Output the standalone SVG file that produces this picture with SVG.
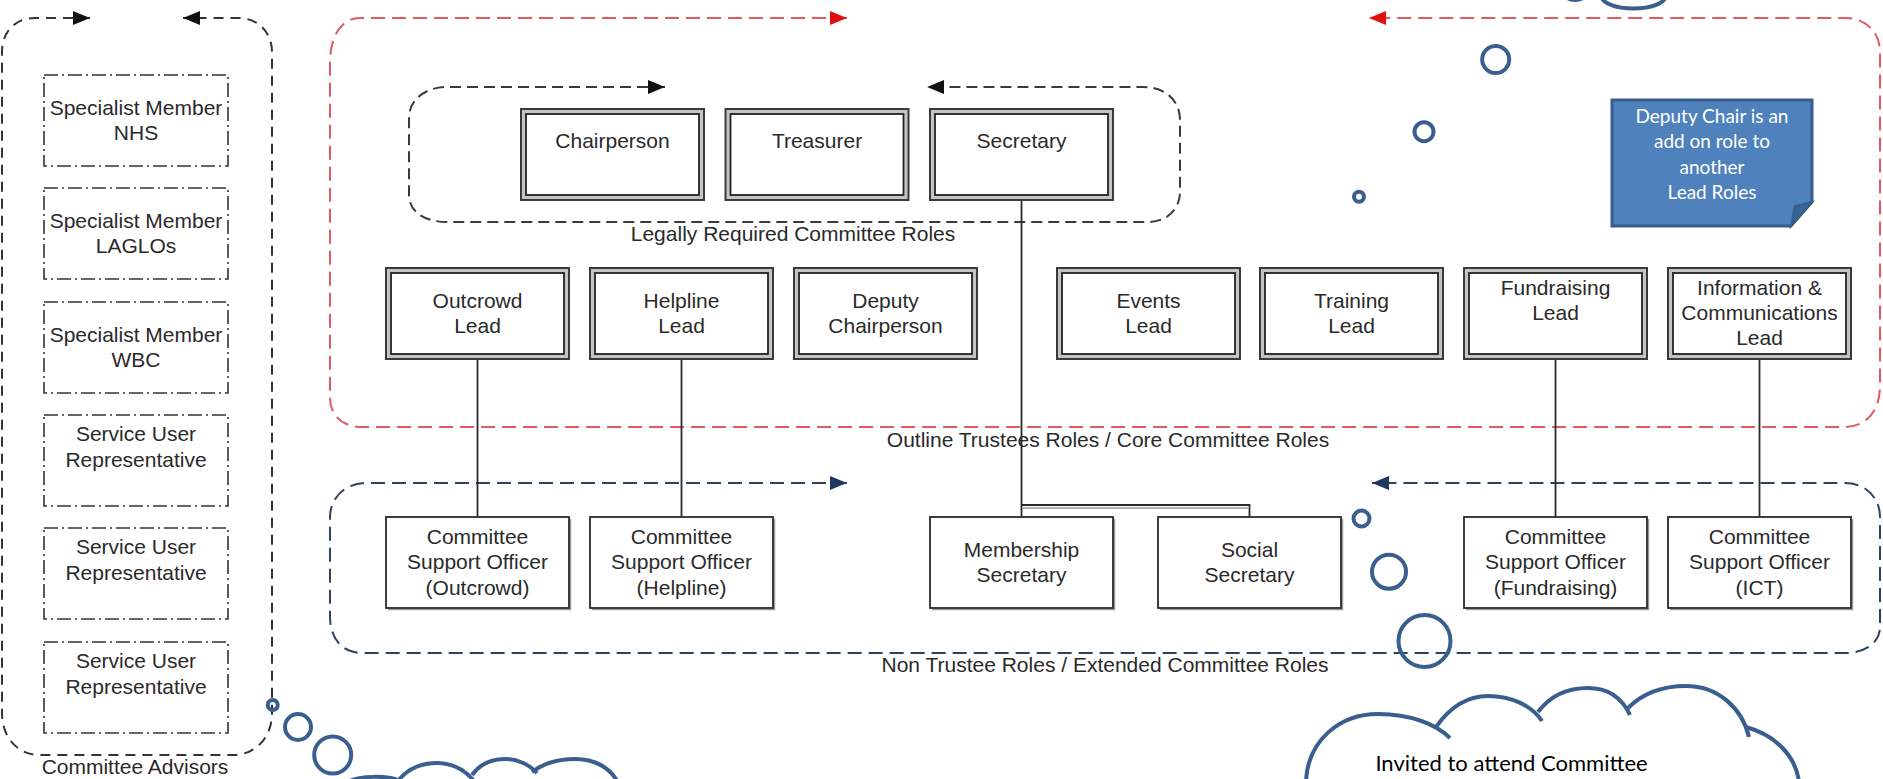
<svg xmlns="http://www.w3.org/2000/svg" width="1883" height="779" viewBox="0 0 1883 779">
<defs>
<style>
.t{font-family:"Liberation Sans",Arial,sans-serif;font-size:21px;fill:#2a2a2a;text-anchor:middle}
.n{font-family:Lato,"Liberation Sans",sans-serif;text-anchor:middle}
.outer{fill:#c4c4c4;stroke:#3a3a3a;stroke-width:2}
.inner{fill:#fff;stroke:#222;stroke-width:1.8}
.single{fill:#fff;stroke:#2a2a2a;stroke-width:1.8}
.shadow{fill:none;stroke:#9a9a9a;stroke-width:1.5}
.dd{fill:#fff;stroke:#333;stroke-width:1.6;stroke-dasharray:14 4 2 4}
.conn{fill:none;stroke:#2a2a2a;stroke-width:1.8}
.blk{fill:none;stroke:#3a3a3a;stroke-width:2;stroke-dasharray:11 6}
.red{fill:none;stroke:#e05a62;stroke-width:2;stroke-dasharray:14 7}
.blu{fill:none;stroke:#2f4260;stroke-width:2;stroke-dasharray:14 7}
.adv{fill:none;stroke:#333;stroke-width:2;stroke-dasharray:10 7}
.ring{fill:none;stroke:#3a5f8f;stroke-width:4}
</style>
<marker id="ab" markerUnits="userSpaceOnUse" markerWidth="17" markerHeight="14" viewBox="0 0 17 14" refX="17" refY="7" orient="auto-start-reverse"><path d="M0,0 L17,7 L0,14 z" fill="#111"/></marker>
<marker id="ar" markerUnits="userSpaceOnUse" markerWidth="17" markerHeight="14" viewBox="0 0 17 14" refX="17" refY="7" orient="auto-start-reverse"><path d="M0,0 L17,7 L0,14 z" fill="#e01010"/></marker>
<marker id="an" markerUnits="userSpaceOnUse" markerWidth="17" markerHeight="14" viewBox="0 0 17 14" refX="17" refY="7" orient="auto-start-reverse"><path d="M0,0 L17,7 L0,14 z" fill="#1f3a60"/></marker>
</defs>
<rect width="1883" height="779" fill="#fff"/>

<g id="containers">
<path class="adv" d="M90,18 L35,18 C15,18 2,32 2,52 L2,713 C2,738 18,755 40,755 L233,755 C255,755 272,738 272,713 L272,52 C272,32 258,18 238,18 L183,18" marker-start="url(#ab)" marker-end="url(#ab)"/>
<path class="red" d="M847,18 L360,18 C342,18 330,35 330,63 L330,398 C330,415 342,427 362,427 L1844,427 C1866,427 1880,412 1880,385 L1880,52 C1880,32 1866,18 1845,18 L1369,18" marker-start="url(#ar)" marker-end="url(#ar)"/>
<path class="blk" d="M665,87 L447,87 C425,87 409,100 409,118 L409,195 C409,212 425,222 447,222 L1148,222 C1166,222 1180,210 1180,192 L1180,120 C1180,100 1165,87 1143,87 L927,87" marker-start="url(#ab)" marker-end="url(#ab)"/>
<path class="blu" d="M847,483 L366,483 C345,483 330,498 330,517 L330,617 C330,638 342,653 362,653 L1845,653 C1866,653 1880,642 1880,627 L1880,517 C1880,498 1866,483 1845,483 L1372,483" marker-start="url(#an)" marker-end="url(#an)"/>
<text class="t" x="135" y="774">Committee Advisors</text>
<text class="t" x="793" y="241">Legally Required Committee Roles</text>
<text class="t" x="1108" y="446.5">Outline Trustees Roles / Core Committee Roles</text>
<text class="t" x="1105" y="672">Non Trustee Roles / Extended Committee Roles</text>
</g>

<g id="connectors">
<path class="conn" d="M477.5,359 V517"/>
<path class="conn" d="M681.5,359 V517"/>
<path class="conn" d="M1021.5,200 V517"/>
<path class="conn" d="M1021.5,505 H1249.5 V517"/>
<path class="shadow" d="M1023,508 H1248"/>
<path class="conn" d="M1555.5,359 V517"/>
<path class="conn" d="M1759.5,359 V517"/>
</g>

<g id="advisor-nhs"><rect class="dd" x="44" y="75" width="184" height="91"/><text class="t" x="136" y="114.5">Specialist Member</text><text class="t" x="136" y="140">NHS</text></g>
<g id="advisor-laglos"><rect class="dd" x="44" y="188" width="184" height="91"/><text class="t" x="136" y="227.5">Specialist Member</text><text class="t" x="136" y="253">LAGLOs</text></g>
<g id="advisor-wbc"><rect class="dd" x="44" y="302" width="184" height="91"/><text class="t" x="136" y="341.5">Specialist Member</text><text class="t" x="136" y="367">WBC</text></g>
<g id="advisor-sur-1"><rect class="dd" x="44" y="415" width="184" height="91"/><text class="t" x="136" y="440.5">Service User</text><text class="t" x="136" y="467">Representative</text></g>
<g id="advisor-sur-2"><rect class="dd" x="44" y="528" width="184" height="91"/><text class="t" x="136" y="553.5">Service User</text><text class="t" x="136" y="580">Representative</text></g>
<g id="advisor-sur-3"><rect class="dd" x="44" y="642" width="184" height="91"/><text class="t" x="136" y="667.5">Service User</text><text class="t" x="136" y="694">Representative</text></g>

<g id="chairperson"><rect class="outer" x="521" y="109" width="183" height="91"/><rect class="inner" x="526" y="114" width="173" height="81"/><text class="t" x="612.5" y="147.5">Chairperson</text></g>
<g id="treasurer"><rect class="outer" x="725.5" y="109" width="183" height="91"/><rect class="inner" x="730.5" y="114" width="173" height="81"/><text class="t" x="817" y="147.5">Treasurer</text></g>
<g id="secretary"><rect class="outer" x="930" y="109" width="183" height="91"/><rect class="inner" x="935" y="114" width="173" height="81"/><text class="t" x="1021.5" y="147.5">Secretary</text></g>

<g id="outcrowd-lead"><rect class="outer" x="386" y="268" width="183" height="91"/><rect class="inner" x="391" y="273" width="173" height="81"/><text class="t" x="477.5" y="307.5">Outcrowd</text><text class="t" x="477.5" y="333">Lead</text></g>
<g id="helpline-lead"><rect class="outer" x="590" y="268" width="183" height="91"/><rect class="inner" x="595" y="273" width="173" height="81"/><text class="t" x="681.5" y="307.5">Helpline</text><text class="t" x="681.5" y="333">Lead</text></g>
<g id="deputy-chairperson"><rect class="outer" x="794" y="268" width="183" height="91"/><rect class="inner" x="799" y="273" width="173" height="81"/><text class="t" x="885.5" y="307.5">Deputy</text><text class="t" x="885.5" y="333">Chairperson</text></g>
<g id="events-lead"><rect class="outer" x="1057" y="268" width="183" height="91"/><rect class="inner" x="1062" y="273" width="173" height="81"/><text class="t" x="1148.5" y="307.5">Events</text><text class="t" x="1148.5" y="333">Lead</text></g>
<g id="training-lead"><rect class="outer" x="1260" y="268" width="183" height="91"/><rect class="inner" x="1265" y="273" width="173" height="81"/><text class="t" x="1351.5" y="307.5">Training</text><text class="t" x="1351.5" y="333">Lead</text></g>
<g id="fundraising-lead"><rect class="outer" x="1464" y="268" width="183" height="91"/><rect class="inner" x="1469" y="273" width="173" height="81"/><text class="t" x="1555.5" y="294.5">Fundraising</text><text class="t" x="1555.5" y="319.5">Lead</text></g>
<g id="info-comms-lead"><rect class="outer" x="1668" y="268" width="183" height="91"/><rect class="inner" x="1673" y="273" width="173" height="81"/><text class="t" x="1759.5" y="294.5">Information &amp;</text><text class="t" x="1759.5" y="319.5">Communications</text><text class="t" x="1759.5" y="344.5">Lead</text></g>

<g id="cso-outcrowd"><path class="shadow" d="M388,609.5 H570.5 V519"/><rect class="single" x="386" y="517" width="183" height="91"/><text class="t" x="477.5" y="543.5">Committee</text><text class="t" x="477.5" y="569">Support Officer</text><text class="t" x="477.5" y="594.5">(Outcrowd)</text></g>
<g id="cso-helpline"><path class="shadow" d="M592,609.5 H774.5 V519"/><rect class="single" x="590" y="517" width="183" height="91"/><text class="t" x="681.5" y="543.5">Committee</text><text class="t" x="681.5" y="569">Support Officer</text><text class="t" x="681.5" y="594.5">(Helpline)</text></g>
<g id="membership-secretary"><path class="shadow" d="M932,609.5 H1114.5 V519"/><rect class="single" x="930" y="517" width="183" height="91"/><text class="t" x="1021.5" y="556.5">Membership</text><text class="t" x="1021.5" y="582">Secretary</text></g>
<g id="social-secretary"><path class="shadow" d="M1160,609.5 H1342.5 V519"/><rect class="single" x="1158" y="517" width="183" height="91"/><text class="t" x="1249.5" y="556.5">Social</text><text class="t" x="1249.5" y="582">Secretary</text></g>
<g id="cso-fundraising"><path class="shadow" d="M1466,609.5 H1648.5 V519"/><rect class="single" x="1464" y="517" width="183" height="91"/><text class="t" x="1555.5" y="543.5">Committee</text><text class="t" x="1555.5" y="569">Support Officer</text><text class="t" x="1555.5" y="594.5">(Fundraising)</text></g>
<g id="cso-ict"><path class="shadow" d="M1670,609.5 H1852.5 V519"/><rect class="single" x="1668" y="517" width="183" height="91"/><text class="t" x="1759.5" y="543.5">Committee</text><text class="t" x="1759.5" y="569">Support Officer</text><text class="t" x="1759.5" y="594.5">(ICT)</text></g>

<g id="deputy-chair-note">
<path d="M1612,100 H1812 V202 L1791,226 H1612 Z" fill="#4f81bd" stroke="#385d8a" stroke-width="3"/>
<path d="M1812,202 L1791,226 L1795,206 Z" fill="#3a6494" stroke="#385d8a" stroke-width="2"/>
<text class="n" x="1712" y="122.5" font-size="19" fill="#fff">Deputy Chair is an</text>
<text class="n" x="1712" y="148" font-size="19" fill="#fff">add on role to</text>
<text class="n" x="1712" y="173.5" font-size="19" fill="#fff">another</text>
<text class="n" x="1712" y="199" font-size="19" fill="#fff">Lead Roles</text>
</g>

<g id="thought-top">
<ellipse class="ring" cx="1633.5" cy="-4" rx="32" ry="12.5"/>
<ellipse class="ring" cx="1575" cy="-8" rx="12" ry="8"/>
<circle class="ring" cx="1495.7" cy="59.5" r="13.5" stroke-width="4.5"/>
<circle class="ring" cx="1424" cy="131.7" r="9.5"/>
<circle class="ring" cx="1359" cy="196.7" r="5" stroke-width="3.5"/>
</g>

<g id="thought-left">
<circle class="ring" cx="272.7" cy="705" r="5"/>
<circle class="ring" cx="298" cy="727" r="13"/>
<circle class="ring" cx="332.7" cy="755" r="18.5"/>
<path class="ring" d="M350,781 C358,776 388,775 400,781"/>
<path class="ring" d="M398,781 C408,768 422,763 437,763 C452,763 465,770 474,781"/>
<path class="ring" d="M472,775 C480,764 492,759 505,759 C518,759 530,765 537,773"/>
<path class="ring" d="M532,772 C545,762 560,759 575,759 C595,759 610,768 617,781"/>
</g>

<g id="thought-invited">
<circle class="ring" cx="1361.5" cy="518.5" r="8"/>
<circle class="ring" cx="1389" cy="571.7" r="17"/>
<circle class="ring" cx="1424.5" cy="641" r="26" stroke-width="4.5"/>
<path class="ring" d="M1306,781 C1308,740 1340,714 1378,714 C1410,714 1436,724 1450,738"/>
<path class="ring" d="M1436,727 C1450,707 1468,696 1488,696 C1512,696 1532,706 1542,721"/>
<path class="ring" d="M1538,712 C1550,696 1567,688 1588,688 C1608,688 1622,698 1630,715"/>
<path class="ring" d="M1628,708 C1643,693 1663,686 1686,686 C1718,686 1742,708 1749,737"/>
<path class="ring" d="M1746,727 C1775,735 1795,755 1799,781"/>
<text class="n" x="1511.5" y="771" font-size="22" fill="#000">Invited to attend Committee</text>
</g>
</svg>
